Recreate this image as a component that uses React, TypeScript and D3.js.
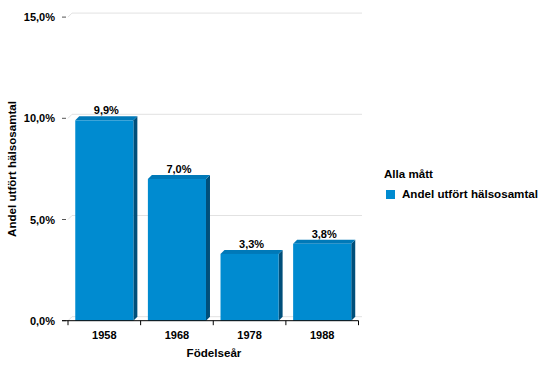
import React from "react";
import * as d3 from "d3";

// data
const years = ["1958", "1968", "1978", "1988"];
const andel = [9.9, 7.0, 3.3, 3.8];
const yTicks = [0, 5, 10, 15];
const seriesName = "Andel utfört hälsosamtal";
const legendTitle = "Alla mått";

const W = 552;
const H = 368;
const DX = 4; // 3d depth
const DY = 4;
const font = "'Liberation Sans', Arial, sans-serif";

export default function App() {
  const x = d3.scaleBand().domain(years).range([68, 358.5]).paddingInner(0.2).paddingOuter(0.1);
  const y = d3.scaleLinear().domain([0, 15]).range([320.7, 17.1]);
  const fmt = (v: number) => v.toFixed(1).replace(".", ",") + "%";
  const step = x.step();
  const bounds = years.map((_, i) => 68 + i * step).concat([358.5]);

  return (
    <svg width={W} height={H} style={{ position: "absolute", left: 0, top: 0 }} fontFamily={font}>
      <rect width={W} height={H} fill="#fff" />
      {/* back wall grid */}
      {yTicks.map((t) => (
        <g key={"g" + t}>
          <line x1={68} y1={y(t)} x2={68 + DX} y2={y(t) - DY} stroke="#e2e2e2" />
          <line x1={68 + DX} y1={y(t) - DY} x2={362} y2={y(t) - DY} stroke="#e2e2e2" />
        </g>
      ))}
      {/* y tick marks and labels */}
      {yTicks.map((t) => (
        <g key={"t" + t}>
          <line x1={62} x2={66} y1={y(t)} y2={y(t)} stroke="#555" />
          <text x={55} y={y(t) + 4} textAnchor="end" fontSize={11} fontWeight="bold" fill="#000">
            {fmt(t)}
          </text>
        </g>
      ))}
      {/* bars */}
      {years.map((yr, i) => {
        const x0 = x(yr)!;
        const w = x.bandwidth();
        const top = y(andel[i]);
        const base = y(0);
        return (
          <g key={yr}>
            <polygon
              points={`${x0 + w},${top} ${x0 + w + DX},${top - DY} ${x0 + w + DX},${base - DY} ${x0 + w},${base}`}
              fill="#004f7a"
            />
            <polygon
              points={`${x0},${top} ${x0 + DX},${top - DY} ${x0 + w + DX},${top - DY} ${x0 + w},${top}`}
              fill="#0079b8"
            />
            <rect x={x0} y={top} width={w} height={base - top} fill="#008bd0" />
            <text
              x={x0 + (w + DX) / 2}
              y={top - DY - 2}
              textAnchor="middle"
              fontSize={11}
              fontWeight="bold"
              fill="#000"
            >
              {fmt(andel[i])}
            </text>
          </g>
        );
      })}
      {/* x axis */}
      <line x1={62} x2={358.5} y1={y(0)} y2={y(0)} stroke="#000" />
      {bounds.map((b, i) => (
        <line key={"b" + i} x1={b} x2={b} y1={y(0)} y2={y(0) + 4.5} stroke="#000" />
      ))}
      {years.map((yr) => (
        <text
          key={"l" + yr}
          x={x(yr)! + x.bandwidth() / 2}
          y={339}
          textAnchor="middle"
          fontSize={11}
          fontWeight="bold"
          fill="#000"
        >
          {yr}
        </text>
      ))}
      <text x={214} y={357} textAnchor="middle" fontSize={11.6} fontWeight="bold" fill="#000">
        Födelseår
      </text>
      <text
        transform="translate(16,169) rotate(-90)"
        textAnchor="middle"
        fontSize={11.6}
        fontWeight="bold"
        fill="#000"
      >
        {seriesName}
      </text>
      {/* legend */}
      <text x={384} y={178} fontSize={11.6} fontWeight="bold" fill="#000">
        {legendTitle}
      </text>
      <rect x={386} y={190} width={9} height={9} fill="#008bd0" />
      <text x={402} y={198} fontSize={11.6} fontWeight="bold" fill="#000">
        {seriesName}
      </text>
    </svg>
  );
}
